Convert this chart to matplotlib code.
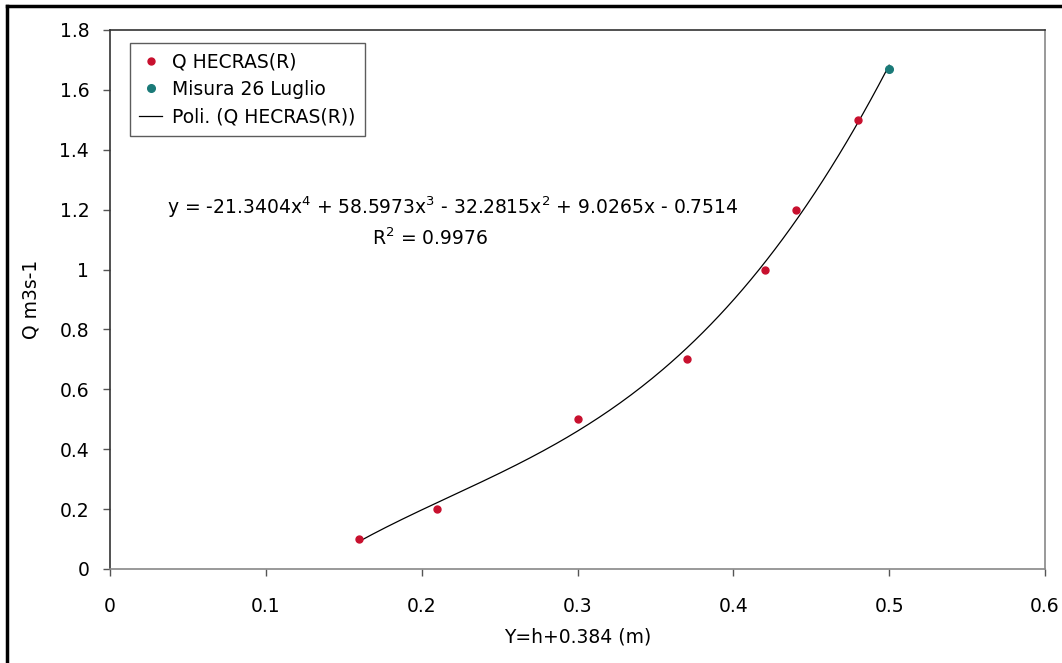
import numpy as np
import matplotlib
matplotlib.use('Agg')
import matplotlib.pyplot as plt
from matplotlib.lines import Line2D

plt.rcParams['font.family'] = ['DejaVu Sans']
plt.rcParams['mathtext.fontset'] = 'dejavusans'

# data
hecras_y = [0.16, 0.21, 0.30, 0.37, 0.42, 0.44, 0.48]
hecras_q = [0.10, 0.20, 0.50, 0.70, 1.00, 1.20, 1.50]
misura_y = [0.50]
misura_q = [1.67]
# trendline coefficients printed on the chart (x^4 .. x^0)
poly_coef = [-21.3404, 58.5973, -32.2815, 9.0265, -0.7514]
r2 = 0.9976
x_ticks = [0, 0.1, 0.2, 0.3, 0.4, 0.5, 0.6]
y_ticks = [0, 0.2, 0.4, 0.6, 0.8, 1, 1.2, 1.4, 1.6, 1.8]

fs = 13.5

fig = plt.figure(figsize=(10.62, 6.63), dpi=100)
ax = fig.add_axes([0.1036, 0.1418, 0.8804, 0.813])

# outer frame (only left and top edges show)
fig.add_artist(Line2D([0.0065, 0.0065], [0, 0.991], transform=fig.transFigure, color='black', lw=2.5))
fig.add_artist(Line2D([0.0065, 1], [0.991, 0.991], transform=fig.transFigure, color='black', lw=2.5))

xs = np.linspace(min(hecras_y), max(misura_y), 200)
ax.plot(xs, np.polyval(poly_coef, xs), color='black', lw=0.9, label='Poli. (Q HECRAS(R))', zorder=2)
ax.plot(hecras_y, hecras_q, 'o', color='#c8102e', ms=5, label='Q HECRAS(R)', zorder=3)
ax.plot(misura_y, misura_q, 'o', color='#1a7a78', ms=5.5, label='Misura 26 Luglio', zorder=3)

ax.set_xlim(0, 0.6)
ax.set_ylim(0, 1.8)
ax.set_xticks(x_ticks)
ax.set_xticklabels(['0' if t == 0 else f'{t:g}' for t in x_ticks])
ax.set_yticks(y_ticks)
ax.set_yticklabels([f'{t:g}' for t in y_ticks])
ax.tick_params(labelsize=fs, direction='out', length=5, width=1, color='#555555', pad=10)
ax.tick_params(axis='x', pad=15)

for side in ['left', 'top']:
    ax.spines[side].set_color('#333333')
for side in ['right', 'bottom']:
    ax.spines[side].set_color('#888888')
for s in ax.spines.values():
    s.set_linewidth(1.2)

ax.set_xlabel('Y=h+0.384 (m)', fontsize=fs)
ax.set_ylabel('Q m3s-1', fontsize=fs)
ax.xaxis.set_label_coords(0.5, -0.109)
ax.yaxis.set_label_coords(-0.074, 0.5)

ax.text(0.2195, 1.209, r'y = -21.3404x$^4$ + 58.5973x$^3$ - 32.2815x$^2$ + 9.0265x - 0.7514',
        fontsize=fs, ha='center', va='center')
ax.text(0.2054, 1.105, f'R$^2$ = {r2}', fontsize=fs, ha='center', va='center')

handles, labels = ax.get_legend_handles_labels()
order = [1, 2, 0]
leg = ax.legend([handles[i] for i in order], [labels[i] for i in order],
                loc='upper left', bbox_to_anchor=(0.0214, 0.976), fontsize=fs,
                frameon=True, fancybox=False, borderpad=0.5, labelspacing=0.45,
                handlelength=1.2, handletextpad=0.55, borderaxespad=0)
leg.get_frame().set_edgecolor('#333333')
leg.get_frame().set_linewidth(1.0)

plt.savefig('out.png', dpi=100)
